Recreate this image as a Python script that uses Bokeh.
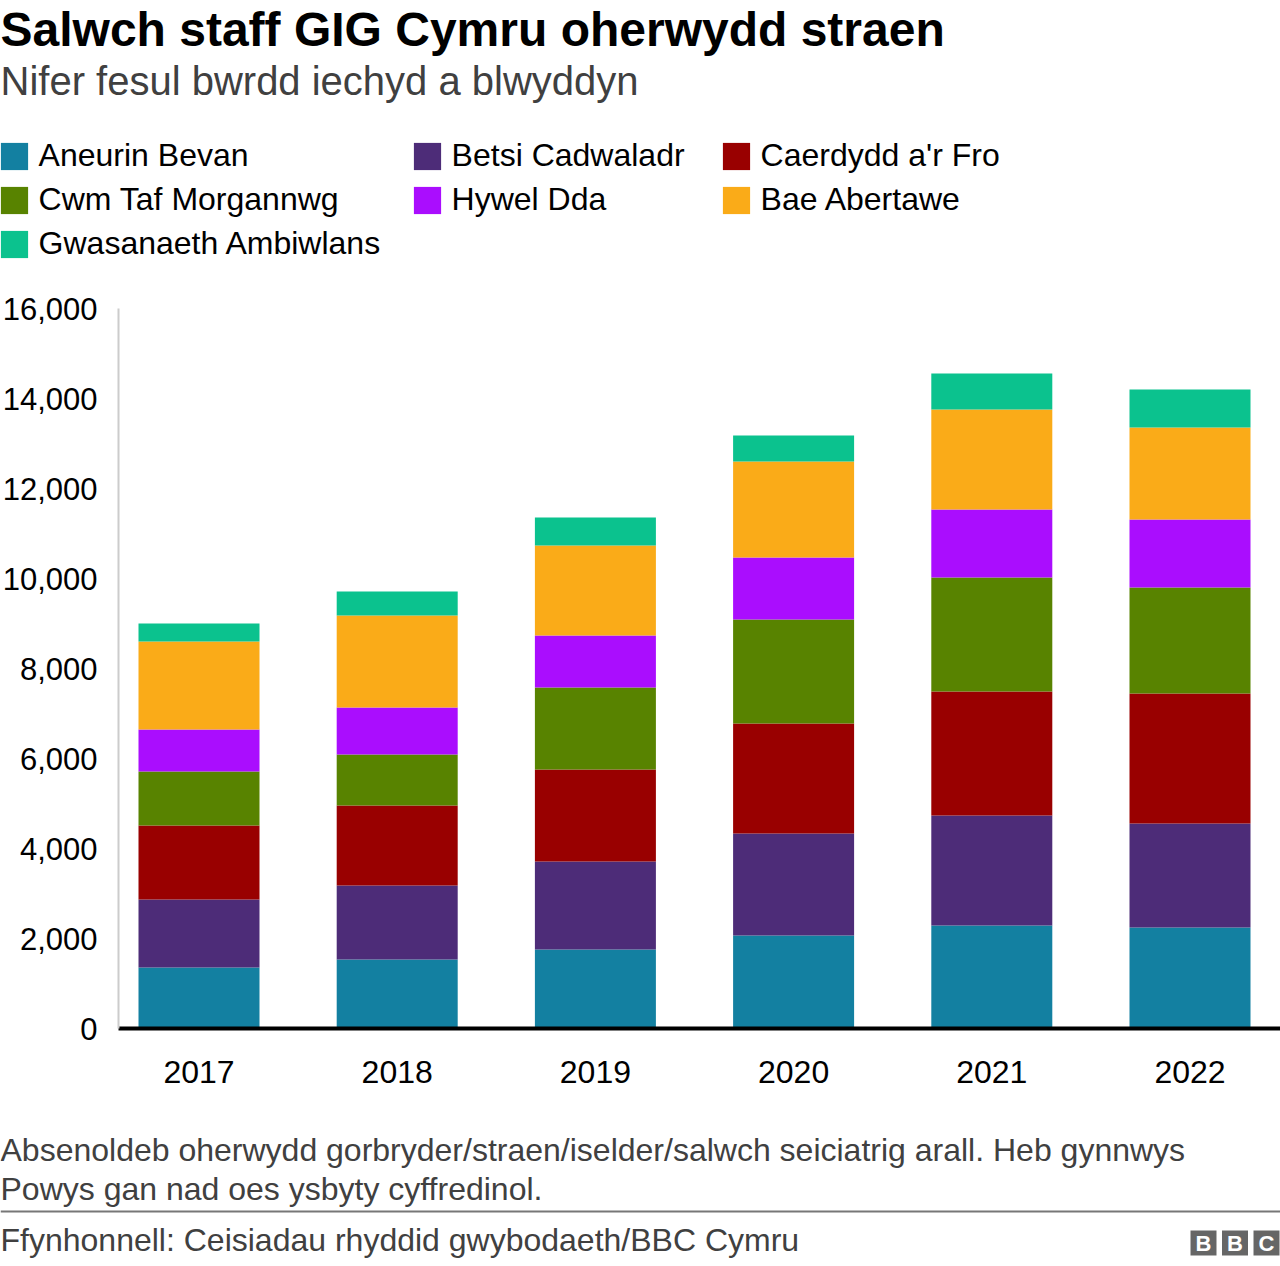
from bokeh.plotting import figure
from bokeh.models import (Legend, LegendItem, Label, BoxAnnotation, FixedTicker,
                          NumeralTickFormatter, Range1d)
from bokeh.embed import file_html
from bokeh.resources import INLINE

# ---------------- data ----------------
years = [2017, 2018, 2019, 2020, 2021, 2022]
year_labels = ["2017", "2018", "2019", "2020", "2021", "2022"]
series_names = ["Aneurin Bevan", "Betsi Cadwaladr", "Caerdydd a'r Fro",
                "Cwm Taf Morgannwg", "Hywel Dda", "Bae Abertawe",
                "Gwasanaeth Ambiwlans"]
aneurin = [1356, 1533, 1756, 2067, 2289, 2244]
betsi = [1511, 1645, 1955, 2266, 2444, 2312]
caerdydd = [1644, 1778, 2045, 2445, 2756, 2888]
cwm_taf = [1200, 1133, 1822, 2311, 2533, 2356]
hywel = [933, 1044, 1155, 1378, 1511, 1511]
bae = [1956, 2045, 2000, 2133, 2223, 2045]
ambiwlans = [400, 533, 623, 578, 800, 844]
y_ticks = [0, 2000, 4000, 6000, 8000, 10000, 12000, 14000, 16000]

colors = ["#1380a1", "#4d2c78", "#990000", "#588300", "#aa0dfe", "#faab18", "#0bc28e"]
keys = ["aneurin", "betsi", "caerdydd", "cwm_taf", "hywel", "bae", "ambiwlans"]

title = "Salwch staff GIG Cymru oherwydd straen"
subtitle = "Nifer fesul bwrdd iechyd a blwyddyn"
note1 = "Absenoldeb oherwydd gorbryder/straen/iselder/salwch seiciatrig arall. Heb gynnwys"
note2 = "Powys gan nad oes ysbyty cyffredinol."
source = "Ffynhonnell: Ceisiadau rhyddid gwybodaeth/BBC Cymru"

FONT = "Liberation Sans"

# ---------------- geometry (page px, top-left origin) ----------------
W, H = 1280, 1260
AXIS_X_PX = 118          # y axis position
AXIS_Y_PX = 1028         # x axis (value 0) position
TOP_PX = 308             # value 16000
PX_PER_YEAR = 198.2
FIRST_CENTER_PX = 198.5
Y_MAX = 16000

units_per_px = Y_MAX / (AXIS_Y_PX - TOP_PX)
y0 = -(H - AXIS_Y_PX) * units_per_px
y1 = AXIS_Y_PX * units_per_px
x0 = years[0] - FIRST_CENTER_PX / PX_PER_YEAR
x1 = x0 + W / PX_PER_YEAR
x_axis_start = x0 + AXIS_X_PX / PX_PER_YEAR

def sx(px):
    return px

def sy(py):
    return H - py

data = dict(year=years, aneurin=aneurin, betsi=betsi, caerdydd=caerdydd,
            cwm_taf=cwm_taf, hywel=hywel, bae=bae, ambiwlans=ambiwlans)

p = figure(width=W, height=H, output_backend="svg", toolbar_location=None,
           x_range=Range1d(x0, x1), y_range=Range1d(y0, y1),
           min_border=0, min_border_left=0, min_border_right=0,
           min_border_top=0, min_border_bottom=0)
p.outline_line_color = None
p.background_fill_color = "white"
p.border_fill_color = "white"
p.xgrid.visible = False
p.ygrid.visible = False

renderers = p.vbar_stack(keys, x="year", width=121 / PX_PER_YEAR, color=colors,
                         line_color=None, source=data)

# axes drawn at fixed data locations (inside the frame)
p.xaxis.fixed_location = 0
p.xaxis.bounds = (x_axis_start, x1)
p.xaxis.ticker = FixedTicker(ticks=years)
p.xaxis.major_label_overrides = {y: l for y, l in zip(years, year_labels)}
p.xaxis.axis_line_color = "black"
p.xaxis.axis_line_width = 4
p.xaxis.major_tick_out = 0
p.xaxis.major_tick_in = 0
p.xaxis.minor_tick_out = 0
p.xaxis.minor_tick_in = 0
p.xaxis.major_label_standoff = 32
p.xaxis.major_label_text_font = FONT
p.xaxis.major_label_text_font_size = "32px"
p.xaxis.major_label_text_color = "#000000"

p.yaxis.fixed_location = x_axis_start
p.yaxis.bounds = (0, Y_MAX)
p.yaxis.ticker = FixedTicker(ticks=y_ticks)
p.yaxis.formatter = NumeralTickFormatter(format="0,0")
p.yaxis.axis_line_color = "#cccccc"
p.yaxis.axis_line_width = 2
p.yaxis.major_tick_out = 0
p.yaxis.major_tick_in = 0
p.yaxis.minor_tick_out = 0
p.yaxis.minor_tick_in = 0
p.yaxis.major_label_standoff = 21
p.yaxis.major_label_text_font = FONT
p.yaxis.major_label_text_font_size = "31px"
p.yaxis.major_label_text_color = "#000000"

# legend: three columns
ITEM_H = 37          # measured legend item height for 32px labels
SPACING = 7          # row pitch 44 px
GLYPH_BOX = 34       # area glyph fills 80% -> ~27 px square
INSET = GLYPH_BOX * 0.1
columns = [
    (0, [0, 3, 6]),
    (413, [1, 4]),
    (722, [2, 5]),
]
item_top = 137
for col_x, idxs in columns:
    n = len(idxs)
    height = n * ITEM_H + (n - 1) * SPACING
    bottom = item_top + height
    leg = Legend(items=[LegendItem(label=series_names[i], renderers=[renderers[i]]) for i in idxs],
                 location=(sx(col_x - INSET), sy(bottom)), orientation="vertical",
                 padding=0, margin=0, spacing=SPACING,
                 glyph_width=GLYPH_BOX, glyph_height=GLYPH_BOX, label_standoff=8,
                 label_text_font=FONT, label_text_font_size="32px",
                 label_text_color="#000000", label_height=27,
                 border_line_color=None, background_fill_alpha=0)
    p.add_layout(leg, "center")

# texts (y given as baseline; label anchor sits ~0.35em above it)
def add_label(text, px, py, size, color, style="normal", align="left"):
    p.add_layout(Label(x=sx(px), y=sy(py - 0.35 * size), x_units="screen", y_units="screen",
                       text=text, text_font=FONT, text_font_size=f"{size}px", text_color=color,
                       text_font_style=style, text_align=align, text_baseline="alphabetic"))

add_label(title, 0, 46, 48, "#000000", style="bold")
add_label(subtitle, 0, 94, 40, "#404040")
add_label(note1, 0, 1161, 32, "#404040")
add_label(note2, 0, 1200, 32, "#404040")
add_label(source, 0, 1251, 32, "#404040")

# separator line
p.add_layout(BoxAnnotation(left=sx(0), right=sx(W), top=sy(1210), bottom=sy(1212),
                           left_units="screen", right_units="screen",
                           top_units="screen", bottom_units="screen",
                           fill_color="#777777", fill_alpha=1, line_color=None))

# BBC logo
for i, letter in enumerate(["B", "B", "C"]):
    lx = 1190 + i * 31.5
    p.add_layout(BoxAnnotation(left=sx(lx), right=sx(lx + 26), top=sy(1230), bottom=sy(1255),
                               left_units="screen", right_units="screen",
                               top_units="screen", bottom_units="screen",
                               fill_color="#666666", fill_alpha=1, line_color=None))
    p.add_layout(Label(x=sx(lx + 13), y=sy(1243), x_units="screen", y_units="screen",
                       text=letter, text_font=FONT, text_font_size="22px", text_color="#ffffff",
                       text_font_style="bold", text_align="center", text_baseline="middle"))

open("out.html", "w").write(file_html(p, INLINE))
